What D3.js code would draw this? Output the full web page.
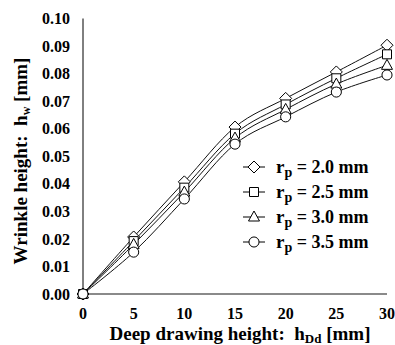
<!DOCTYPE html>
<html><head><meta charset="utf-8">
<script src="https://cdn.jsdelivr.net/npm/d3@7"></script>
<style>body{margin:0;background:#fff;}svg text{font-family:"Liberation Serif","Times New Roman",serif;font-weight:bold;fill:#000;white-space:pre;}</style>
</head><body><svg id="c" width="395" height="345"></svg>
<script>
const xValues = [0, 5, 10, 15, 20, 25, 30];
const seriesNames = ["2.0", "2.5", "3.0", "3.5"];
const seriesSymbols = ["diamond", "square", "triangle", "circle"];
const rp20 = [0, 0.0207, 0.0407, 0.0606, 0.0710, 0.0806, 0.0903];
const rp25 = [0, 0.0192, 0.0386, 0.0582, 0.0688, 0.0783, 0.0870];
const rp30 = [0, 0.0180, 0.0370, 0.0566, 0.0670, 0.0762, 0.0830];
const rp35 = [0, 0.0152, 0.0345, 0.0544, 0.0643, 0.0733, 0.0795];
const yTicks = [0, 0.01, 0.02, 0.03, 0.04, 0.05, 0.06, 0.07, 0.08, 0.09, 0.10];
const xTicks = [0, 5, 10, 15, 20, 25, 30];
const series = [rp20, rp25, rp30, rp35];

const svg = d3.select("#c");
const x = d3.scaleLinear().domain([0, 30]).range([83, 387]);
const y = d3.scaleLinear().domain([0, 0.10]).range([294, 18.5]);

// axes
svg.append("line").attr("x1", x(0)).attr("x2", x(30)).attr("y1", y(0)).attr("y2", y(0))
  .attr("stroke", "#8a8a8a").attr("stroke-width", 2);
svg.append("line").attr("x1", x(0)).attr("x2", x(0)).attr("y1", y(0)).attr("y2", y(0.1))
  .attr("stroke", "#000").attr("stroke-width", 1);

svg.selectAll(".yt").data(yTicks).enter().append("text")
  .attr("x", 70).attr("y", d => y(d)).attr("dy", "0.35em")
  .attr("text-anchor", "end").attr("font-size", 16).text(d => d3.format(".2f")(d));
svg.selectAll(".xt").data(xTicks).enter().append("text")
  .attr("x", d => x(d)).attr("y", 313).attr("dy", "0.35em")
  .attr("text-anchor", "middle").attr("font-size", 16).text(d => d);

// axis titles
const xt = svg.append("text").attr("x", 240).attr("y", 340).attr("text-anchor", "middle").attr("font-size", 19);
xt.append("tspan").text("Deep drawing height:  h");
xt.append("tspan").attr("font-size", 13).attr("dy", 3).text("Dd");
xt.append("tspan").attr("dy", -3).text(" [mm]");

const yt = svg.append("text").attr("transform", "translate(27,161) rotate(-90)")
  .attr("text-anchor", "middle").attr("font-size", 19);
yt.append("tspan").text("Wrinkle height:  h");
yt.append("tspan").attr("font-size", 12).attr("dy", 3).text("w");
yt.append("tspan").attr("dy", -3).text(" [mm]");

// lines
const line = d3.line().x((d, i) => x(xValues[i])).y(d => y(d)).curve(d3.curveCardinal.tension(0));
series.forEach(s => {
  svg.append("path").attr("d", line(s)).attr("fill", "none").attr("stroke", "#111").attr("stroke-width", 1);
});

const symPath = {
  diamond: "M0,-6L6,0L0,6L-6,0Z",
  square: "M-4.5,-4.5H4.5V4.5H-4.5Z",
  triangle: "M0,-6L5.5,4L-5.5,4Z",
  circle: d3.symbol().type(d3.symbolCircle).size(80)()
};
function marker(g, name, cx, cy) {
  g.append("path").attr("d", symPath[name])
    .attr("transform", `translate(${cx},${cy})`).attr("fill", "#fff").attr("stroke", "#000").attr("stroke-width", 1);
}
series.forEach((s, k) => {
  const g = svg.append("g");
  s.forEach((v, i) => marker(g, seriesSymbols[k], x(xValues[i]), y(v)));
});

// legend
const legY = [167, 192, 217, 242];
seriesNames.forEach((n, k) => {
  const g = svg.append("g");
  g.append("line").attr("x1", 243).attr("x2", 265).attr("y1", legY[k]).attr("y2", legY[k]).attr("stroke", "#000");
  marker(g, seriesSymbols[k], 254, legY[k]);
  const t = g.append("text").attr("x", 276).attr("y", legY[k]).attr("dy", "0.3em").attr("font-size", 19);
  t.append("tspan").text("r");
  t.append("tspan").attr("font-size", 14).attr("dy", 4).text("p");
  t.append("tspan").attr("dy", -4).attr("font-size", 18).text(" = " + n + " mm");
});
</script></body></html>
